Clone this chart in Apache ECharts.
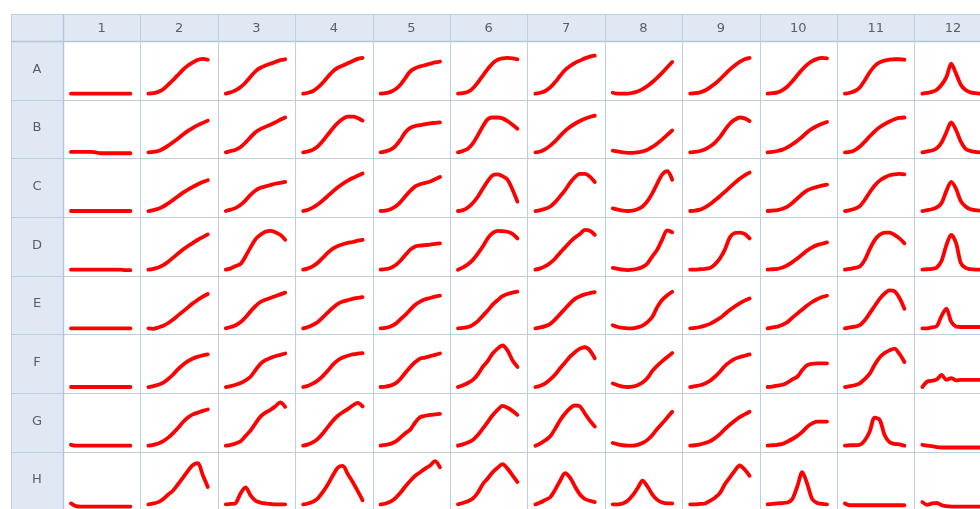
<!DOCTYPE html>
<html>
<head>
<meta charset="utf-8">
<script src="https://cdn.jsdelivr.net/npm/echarts@6/dist/echarts.min.js"></script>
<style>
html,body{margin:0;padding:0;background:#fff;}
#chart{width:980px;height:509px;}
</style>
</head>
<body>
<div id="chart"></div>
<script>
// ---- Data (0 = baseline, 100 = top of well) ----
const colLabels = ['1','2','3','4','5','6','7','8','9','10','11','12'];
const rowLabels = ['A','B','C','D','E','F','G','H'];

const rowA = [
  [0,0,0,0,0,0,0,0,0,0,0,0,0],
  [0,1,4,10,20,31,42,54,63,70,76,78,76],
  [0,3,8,15,25,38,50,58,63,67,71,75,77],
  [0,2,6,14,25,38,50,58,63,68,73,78,80],
  [0,1,4,10,20,35,50,57,61,64,67,70,72],
  [0,1,4,12,25,40,55,68,76,79,80,79,77],
  [0,2,6,14,26,40,53,62,69,74,79,83,85],
  [2,0,0,0,2,5,10,17,26,36,47,59,71],
  [0,1,3,7,14,22,32,43,54,63,71,77,80],
  [0,1,3,8,16,28,41,54,65,73,78,80,79],
  [0,2,6,14,30,48,62,70,74,76,77,77,76],
  [0,2,4,9,20,37,67,45,20,8,3,1,0]
];
const rowB = [
  [1,1,1,1,1,0,-2,-2,-2,-2,-2,-2,-2],
  [0,1,3,8,15,23,31,40,48,55,61,66,71],
  [0,3,6,12,22,34,45,52,57,62,67,73,78],
  [0,2,6,14,26,40,54,66,75,80,80,77,71],
  [0,2,6,14,28,45,55,59,61,63,65,66,67],
  [0,3,8,20,38,58,74,78,78,76,70,62,53],
  [0,2,7,15,25,37,48,57,64,70,75,79,82],
  [4,2,0,-1,-1,0,2,6,12,20,29,39,49],
  [0,1,3,7,13,22,34,50,64,73,78,76,70],
  [0,1,3,6,11,18,26,35,45,53,59,64,68],
  [0,1,5,13,24,36,47,56,63,69,74,77,78],
  [0,2,4,9,22,45,67,50,24,8,3,1,0]
];
const rowC = [
  [0,0,0,0,0,0,0,0,0,0,0,0,0],
  [0,2,5,10,17,25,33,41,48,54,60,65,69],
  [0,3,7,14,24,36,46,52,55,58,61,63,65],
  [0,3,8,15,24,34,44,53,61,68,74,79,84],
  [0,1,4,10,20,33,45,55,60,63,66,71,76],
  [0,2,8,18,32,50,67,80,82,78,70,48,21],
  [0,2,5,10,20,33,47,63,76,83,83,77,65],
  [6,3,1,0,1,4,10,22,40,62,82,89,70],
  [0,1,3,8,15,24,33,43,53,63,72,80,86],
  [0,1,2,5,10,18,28,38,46,51,54,57,59],
  [0,2,5,11,25,42,57,68,75,80,82,83,82],
  [0,2,4,8,18,45,65,50,22,10,4,2,1]
];
const rowD = [
  [0,0,0,0,0,0,0,0,0,0,0,-1,-1],
  [0,2,5,10,18,27,36,45,53,60,67,73,79],
  [0,3,8,13,30,50,68,78,85,87,84,78,67],
  [0,3,8,16,27,38,47,53,57,60,62,65,67],
  [0,1,4,10,20,33,45,52,54,55,56,58,59],
  [0,5,12,22,36,52,70,82,87,86,85,80,70],
  [0,3,8,15,25,38,50,62,72,80,89,87,78],
  [4,2,0,-1,0,2,6,14,30,45,68,88,84],
  [0,0,1,2,4,12,25,45,72,82,83,80,70],
  [0,1,2,5,10,17,25,34,43,50,55,58,61],
  [0,2,4,7,22,46,66,78,83,83,78,70,59],
  [0,1,2,5,20,55,78,60,15,4,1,0,0]
];
const rowE = [
  [0,0,0,0,0,0,0,0,0,0,0,0,0],
  [0,-1,2,6,12,20,29,38,47,56,64,71,77],
  [0,3,7,14,25,38,50,59,64,68,72,76,80],
  [0,3,8,15,25,36,46,55,60,63,66,68,70],
  [0,1,4,10,20,30,42,53,60,65,68,71,73],
  [0,1,3,8,16,28,40,53,63,72,77,80,82],
  [0,2,5,10,20,32,44,56,66,72,76,79,81],
  [7,3,1,0,0,2,6,14,26,48,64,74,82],
  [0,1,3,6,10,16,23,32,41,49,56,62,67],
  [0,2,4,8,14,24,33,42,51,59,65,70,73],
  [0,2,4,7,18,34,50,66,78,85,83,68,44],
  [0,0,2,5,28,44,15,4,3,3,3,3,3]
];
const rowF = [
  [0,0,0,0,0,0,0,0,0,0,0,0,0],
  [0,2,5,10,18,28,40,50,58,64,68,71,73],
  [0,2,5,9,15,23,38,52,60,65,69,72,75],
  [0,3,8,15,25,37,50,60,66,70,73,75,76],
  [0,1,3,8,18,32,45,56,64,66,69,72,75],
  [0,4,9,16,28,45,58,75,86,93,82,60,45],
  [0,3,8,17,28,42,55,68,78,86,89,82,64],
  [8,4,1,0,1,4,10,20,36,48,58,67,76],
  [0,2,4,8,14,23,34,47,56,63,67,70,73],
  [0,1,3,5,10,17,23,38,49,52,53,53,53],
  [0,2,4,8,18,30,50,66,76,82,86,74,56],
  [0,12,14,17,27,16,20,15,16,16,16,16,16]
];
const rowG = [
  [2,0,0,0,0,0,0,0,0,0,0,0,0],
  [0,2,5,10,18,28,40,53,63,70,74,78,81],
  [0,2,5,10,22,34,50,65,74,80,88,97,87],
  [0,3,8,16,28,42,56,67,75,82,90,96,88],
  [0,2,4,9,18,28,36,52,64,67,69,70,71],
  [0,3,7,13,24,38,53,68,80,89,85,78,69],
  [0,5,12,21,38,57,72,84,90,88,72,56,43],
  [6,3,1,0,0,2,6,13,24,38,50,63,76],
  [0,1,3,6,10,17,26,37,47,56,64,70,76],
  [0,1,2,4,9,15,22,31,42,50,54,54,54],
  [0,1,1,2,12,32,63,58,24,8,4,3,0],
  [2,0,-1,-3,-4,-4,-4,-4,-4,-4,-4,-4,-4]
];
const rowH = [
  [2,-4,-5,-5,-5,-5,-5,-5,-5,-5,-5,-5,-5],
  [0,2,5,12,22,31,45,60,75,88,92,65,39],
  [0,1,3,25,38,20,8,4,2,1,0,0,0],
  [0,2,6,14,28,45,65,82,86,68,50,30,9],
  [0,2,6,14,26,40,53,64,72,80,87,97,83],
  [0,3,7,13,26,45,58,72,82,90,80,65,50],
  [0,4,10,16,33,53,70,60,40,22,12,8,5],
  [0,0,2,8,20,36,53,40,22,10,4,2,2],
  [0,0,1,2,8,15,25,45,60,75,87,78,64],
  [0,1,2,3,4,12,40,72,46,12,3,1,0],
  [2,-2,-2,-2,-2,-2,-2,-2,-2,-2,-2,-2,-2],
  [5,-1,2,3,-2,-4,-5,-5,-5,-5,-5,-5,-5]
];
const plate = [rowA,rowB,rowC,rowD,rowE,rowF,rowG,rowH];

// ---- Layout ----
const L = 11, T = 14, LABW = 52, HDRH = 27, COLW = 77.4, ROWH = 58.67;
const X0 = L + LABW, Y0 = T + HDRH;
const W = 980, H = 509;
const headerBg = '#e0e8f3', lineCol = '#bfcde0', textCol = '#5e5e5e';
const FONT = '13px "DejaVu Sans", sans-serif';

const graphic = [];
graphic.push({type:'rect', shape:{x:L, y:T, width:W - L + 20, height:HDRH}, style:{fill:headerBg}, silent:true});
graphic.push({type:'rect', shape:{x:L, y:T, width:LABW, height:H - T + 20}, style:{fill:headerBg}, silent:true});
graphic.push({type:'line', shape:{x1:L, y1:T+0.5, x2:W+10, y2:T+0.5}, style:{stroke:lineCol, lineWidth:1}, silent:true});
for (let r = 0; r <= rowLabels.length; r++) {
  const y = Math.round(Y0 + r * ROWH) + 0.5;
  graphic.push({type:'line', shape:{x1:L, y1:y, x2:W+10, y2:y}, style:{stroke: r === 0 ? '#b5c5d9' : lineCol, lineWidth: r === 0 ? 1.5 : 1}, silent:true});
}
graphic.push({type:'line', shape:{x1:L+0.5, y1:T, x2:L+0.5, y2:H+10}, style:{stroke:lineCol, lineWidth:1}, silent:true});
for (let c = 0; c <= colLabels.length; c++) {
  const x = Math.round(X0 + c * COLW) + 0.5;
  graphic.push({type:'line', shape:{x1:x, y1:T, x2:x, y2:H+10}, style:{stroke: c === 0 ? '#b5c5d9' : lineCol, lineWidth: c === 0 ? 1.5 : 1}, silent:true});
}
colLabels.forEach((lab, c) => {
  graphic.push({type:'text', x: X0 + c * COLW + COLW / 2, y: T + HDRH / 2 + 1,
    style:{text:lab, textAlign:'center', textVerticalAlign:'middle', fill:textCol, font:FONT}, silent:true});
});
rowLabels.forEach((lab, r) => {
  graphic.push({type:'text', x: L + LABW / 2, y: Y0 + r * ROWH + ROWH / 2 - 1,
    style:{text:lab, textAlign:'center', textVerticalAlign:'middle', fill:textCol, font:FONT}, silent:true});
});

// ---- Grids / axes / series ----
const grids = [], xAxes = [], yAxes = [], series = [];
const YMIN = -10, YMAX = 100;
const innerH = ROWH - 14;
const gridH = innerH * (YMAX - YMIN) / 100;
plate.forEach((row, r) => {
  row.forEach((vals, c) => {
    const idx = grids.length;
    grids.push({
      left: X0 + c * COLW + 8,
      top: Y0 + r * ROWH + 8,
      width: COLW - 18,
      height: gridH,
      containLabel: false
    });
    xAxes.push({type:'category', gridIndex: idx, boundaryGap:false,
      data: vals.map((_, i) => i), show:false});
    yAxes.push({type:'value', gridIndex: idx, min: YMIN, max: YMAX, show:false});
    series.push({
      type:'line', xAxisIndex: idx, yAxisIndex: idx, data: vals,
      showSymbol:false, symbol:'none', smooth:0.3, clip:false, silent:true,
      lineStyle:{color:'#ff0000', width:3.8, cap:'round', join:'round'},
      animation:false
    });
  });
});

const chart = echarts.init(document.getElementById('chart'), null, {renderer:'canvas'});
chart.setOption({
  animation:false,
  backgroundColor:'#ffffff',
  graphic: graphic,
  grid: grids,
  xAxis: xAxes,
  yAxis: yAxes,
  series: series
});
</script>
</body>
</html>
